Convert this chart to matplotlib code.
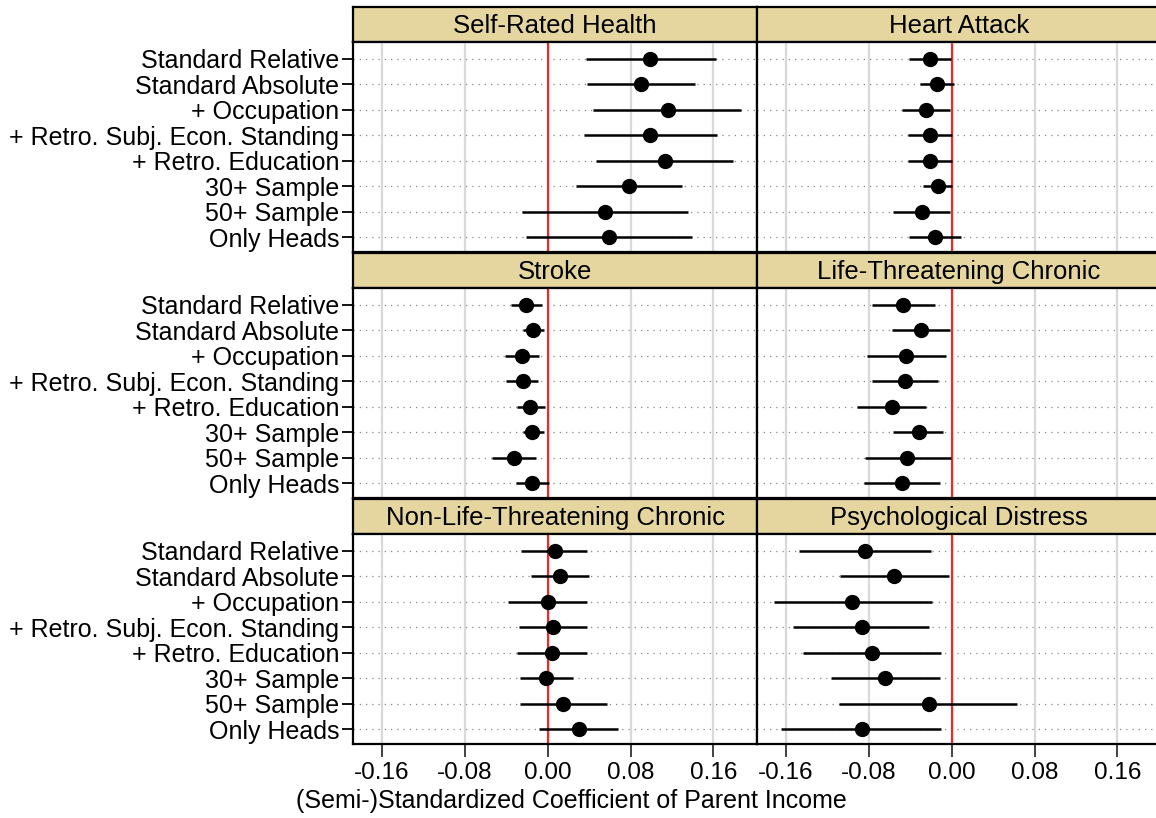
import matplotlib
matplotlib.use("Agg")
import matplotlib.pyplot as plt

plt.rcParams['font.family'] = ['Liberation Sans', 'DejaVu Sans']

# model specifications (rows, top to bottom)
specs = ["Standard Relative", "Standard Absolute", "+ Occupation",
         "+ Retro. Subj. Econ. Standing", "+ Retro. Education",
         "30+ Sample", "50+ Sample", "Only Heads"]

outcomes = ["Self-Rated Health", "Heart Attack", "Stroke",
            "Life-Threatening Chronic", "Non-Life-Threatening Chronic",
            "Psychological Distress"]

# point estimates, one list per outcome
srh_est = [0.099, 0.090, 0.116, 0.099, 0.113, 0.078, 0.055, 0.059]
heart_est = [-0.021, -0.014, -0.025, -0.021, -0.021, -0.013, -0.029, -0.016]
stroke_est = [-0.021, -0.014, -0.025, -0.024, -0.017, -0.015, -0.033, -0.015]
ltc_est = [-0.047, -0.030, -0.044, -0.045, -0.058, -0.032, -0.043, -0.048]
nltc_est = [0.007, 0.012, 0.000, 0.005, 0.004, -0.002, 0.015, 0.030]
psych_est = [-0.084, -0.056, -0.096, -0.087, -0.077, -0.064, -0.022, -0.087]

# lower bounds of confidence intervals
srh_lo = [0.037, 0.038, 0.044, 0.035, 0.047, 0.027, -0.025, -0.021]
heart_lo = [-0.041, -0.031, -0.048, -0.042, -0.042, -0.028, -0.057, -0.041]
stroke_lo = [-0.035, -0.024, -0.041, -0.040, -0.030, -0.024, -0.054, -0.031]
ltc_lo = [-0.077, -0.058, -0.082, -0.077, -0.091, -0.057, -0.084, -0.085]
nltc_lo = [-0.026, -0.016, -0.038, -0.028, -0.030, -0.027, -0.027, -0.008]
psych_lo = [-0.147, -0.108, -0.172, -0.153, -0.144, -0.117, -0.109, -0.165]

# upper bounds of confidence intervals
srh_hi = [0.162, 0.142, 0.187, 0.163, 0.179, 0.130, 0.135, 0.139]
heart_hi = [-0.001, 0.002, -0.002, 0.000, 0.000, 0.000, -0.002, 0.009]
stroke_hi = [-0.006, -0.004, -0.008, -0.009, -0.003, -0.004, -0.011, 0.001]
ltc_hi = [-0.016, -0.002, -0.006, -0.013, -0.025, -0.008, -0.001, -0.011]
nltc_hi = [0.038, 0.040, 0.038, 0.038, 0.038, 0.024, 0.057, 0.068]
psych_hi = [-0.020, -0.003, -0.019, -0.022, -0.010, -0.011, 0.063, -0.010]

estimates = [srh_est, heart_est, stroke_est, ltc_est, nltc_est, psych_est]
lowers = [srh_lo, heart_lo, stroke_lo, ltc_lo, nltc_lo, psych_lo]
uppers = [srh_hi, heart_hi, stroke_hi, ltc_hi, nltc_hi, psych_hi]

xticks = [-0.16, -0.08, 0.0, 0.08, 0.16]
xtick_labels = ["-0.16", "-0.08", "0.00", "0.08", "0.16"]

W, H = 1156, 818
fig = plt.figure(figsize=(W / 100, H / 100), dpi=100)

strip_color = "#e5d59f"
fs = 18

col_x = [353, 757]
col_w = 404
block_top = [7, 253, 499]
strip_h = 35
plot_h = 210

ypos = list(range(1, len(specs) + 1))

for i, name in enumerate(outcomes):
    row, col = divmod(i, 2)
    x0 = col_x[col]
    top = block_top[row]

    # header strip
    hax = fig.add_axes([x0 / W, 1 - (top + strip_h) / H, col_w / W, strip_h / H])
    hax.set_facecolor(strip_color)
    hax.set_xticks([])
    hax.set_yticks([])
    for s in hax.spines.values():
        s.set_linewidth(1.6)
    hax.text(0.5, 0.47, name, ha="center", va="center", fontsize=18.5,
             transform=hax.transAxes)

    # panel
    ax = fig.add_axes([x0 / W, 1 - (top + strip_h + plot_h) / H, col_w / W, plot_h / H])
    for s in ax.spines.values():
        s.set_linewidth(1.6)
    ax.set_xlim(-0.188, 0.202)
    ax.set_ylim(8.58, 0.35)

    for xt in xticks:
        ax.axvline(xt, color="#d9d9d9", lw=1.6, zorder=1)
    for y in ypos:
        ax.axhline(y, color="#888888", lw=0.9, linestyle=(0, (1, 4)), zorder=0.5)
    ax.axvline(0, color="#ec2a2a", lw=1.6, zorder=2)

    est = estimates[i]
    lo = lowers[i]
    hi = uppers[i]
    ax.hlines(ypos, lo, hi, color="black", lw=1.8, zorder=3)
    ax.plot(est, ypos, "o", color="black", markersize=10, zorder=4)

    if col == 0:
        ax.set_yticks(ypos)
        ax.set_yticklabels(specs, fontsize=fs)
        ax.tick_params(axis="y", length=8, width=1.3, pad=2)
    else:
        ax.set_yticks([])

    if row == 2:
        ax.set_xticks(xticks)
        ax.set_xticklabels(xtick_labels, fontsize=17.5)
        ax.tick_params(axis="x", length=9, width=1.3, pad=4, color="#333333")
    else:
        ax.set_xticks([])

fig.text(571 / W, 1 - 801 / H, "(Semi-)Standardized Coefficient of Parent Income",
         ha="center", va="center", fontsize=fs)

fig.savefig("out.png", dpi=100)
